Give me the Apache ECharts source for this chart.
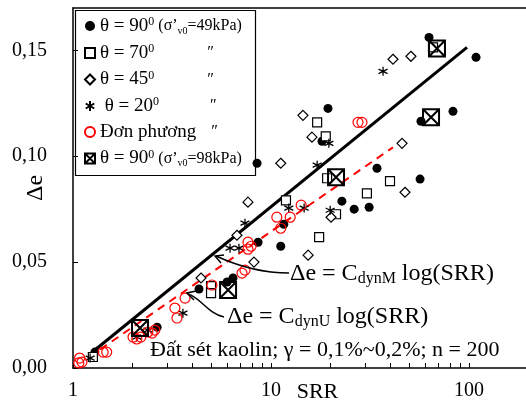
<!DOCTYPE html>
<html>
<head>
<meta charset="utf-8">
<script src="https://cdn.jsdelivr.net/npm/echarts@6/dist/echarts.min.js"></script>
<style>html,body{margin:0;padding:0;background:#fff}#c{width:526px;height:400px}</style>
</head>
<body>
<div id="c"></div>
<script>
// ---- data (SRR, Δe) ----
const srr90a = [1.29,2.66,4.33,6.0,6.43,8.6,11.2,11.6,8.5,18.1,19.4,22.8,26.3,31.3,34.3,56.6,57.2,83.0,62.8,108.5];
const de90a  = [0.0075,0.0193,0.0373,0.0406,0.0425,0.0594,0.0575,0.0679,0.0967,0.1071,0.1226,0.0788,0.0750,0.0759,0.0943,0.0892,0.1165,0.1212,0.1561,0.1467];
const srr70 = [1.26,4.98,4.98,11.9,17.1,18.9,19.2,21.3,17.5,30.5,39.9,65.8];
const de70  = [0.0052,0.0387,0.0354,0.0792,0.1160,0.1094,0.0896,0.0726,0.0618,0.0825,0.0882,0.1514];
const srr45 = [4.43,6.73,8.2,7.65,11.2,14.5,16.1,20.1,15.4,45.9,47.5,41.3,50.9];
const de45  = [0.0425,0.0627,0.0500,0.0783,0.0967,0.1193,0.1090,0.0712,0.0533,0.1061,0.0830,0.1458,0.1472];
const srr20 = [1.22,2.10,2.39,3.59,6.21,6.89,7.39,12.3,14.7,17.1,19.9,19.6,36.8];
const de20  = [0.0047,0.0146,0.0179,0.0259,0.0566,0.0566,0.0684,0.0755,0.0755,0.0958,0.0745,0.1061,0.1401];
const srrU = [1.08,1.11,1.07,1.42,1.48,2.01,2.10,2.20,2.39,2.51,2.59,3.27,3.35,3.68,5.03,7.14,7.39,7.65,7.93,7.65,11.2,10.7,12.5,14.2,27.5,28.8];
const deU  = [0.0047,0.0028,0.0024,0.0075,0.0075,0.0146,0.0137,0.0146,0.0170,0.0165,0.0179,0.0283,0.0236,0.0330,0.0392,0.0448,0.0462,0.0561,0.0575,0.0594,0.0660,0.0712,0.0712,0.0769,0.1160,0.1160];
const srr98 = [2.18,6.07,21.3,64.3,68.9];
const de98  = [0.0189,0.0368,0.0901,0.1184,0.1509];
// fitted lines (read endpoints)
const lineM_srr = [1.29, 97.7];
const lineM_de  = [0.0085, 0.1514];
const lineU_srr = [1.2, 41.3];
const lineU_de  = [0.005, 0.1042];
// axis ticks
const xLabelVals = [1, 10, 100];
const xTickVals = [1,2,3,4,5,6,7,8,9,10,20,30,40,50,60,70,80,90,100];
const yTickVals = [0, 0.05, 0.10, 0.15];

const names = ['θ = 90⁰ (σ’v0=49kPa)','θ = 70⁰','θ = 45⁰','θ = 20⁰','Đơn phương','θ = 90⁰ (σ’v0=98kPa)'];
const legendText = {
  'θ = 90⁰ (σ’v0=49kPa)': '{m|θ = 90}{sup|0}{s| (σ’}{sub|v0}{s|=49kPa)}',
  'θ = 70⁰': '{m|θ = 70}{sup|0}{gap| }{d|″}',
  'θ = 45⁰': '{m|θ = 45}{sup|0}{gap| }{d|″}',
  'θ = 20⁰': '{m| θ = 20}{sup|0}{gap2| }{d|″}',
  'Đơn phương': '{m|Đơn phương}{gap3| }{d|″}',
  'θ = 90⁰ (σ’v0=98kPa)': '{m|θ = 90}{sup|0}{s| (σ’}{sub|v0}{s|=98kPa)}'
};

const pairs = (a, b) => a.map((v, i) => [v, b[i]]);
const F = 'Liberation Serif';
const ast = 'path://M5,0L5,10M0.7,2.5L9.3,7.5M9.3,2.5L0.7,7.5';
const boxX = 'path://M0,0L10,0L10,10L0,10ZM0,0L10,10M10,0L0,10';

const chart = echarts.init(document.getElementById('c'));
chart.setOption({
  animation: false,
  backgroundColor: '#fff',
  grid: { left: 73, top: 8, right: 0, bottom: 32, containLabel: false, outerBoundsMode: 'none' },
  xAxis: [{
    type: 'log', min: 1, max: 194, logBase: 10,
    axisLine: { lineStyle: { color: '#000', width: 1.5 } },
    axisTick: { inside: true, length: 5, customValues: xTickVals, lineStyle: { color: '#000' } },
    axisLabel: { customValues: xLabelVals, margin: 13, color: '#000', fontFamily: F, fontSize: 20,
                 formatter: v => String(Math.round(v)) },
    splitLine: { show: false },
    name: 'SRR', nameLocation: 'middle', nameGap: 13, nameMoveOverlap: false,
    nameTextStyle: { fontFamily: F, fontSize: 22, color: '#000', padding: [0, 0, 0, 36] }
  }, {
    type: 'log', min: 1, max: 194, position: 'top',
    axisLine: { show: true, lineStyle: { color: '#000', width: 1.5 } },
    axisTick: { show: false }, axisLabel: { show: false }, splitLine: { show: false }
  }],
  yAxis: {
    type: 'value', min: 0, max: 0.17,
    axisLine: { show: true, lineStyle: { color: '#000', width: 1.5 } },
    axisTick: { show: true, inside: true, length: 5, customValues: yTickVals, lineStyle: { color: '#000' } },
    axisLabel: { customValues: yTickVals, margin: 26, color: '#000', fontFamily: F, fontSize: 20,
                 formatter: v => v.toFixed(2).replace('.', ',') },
    splitLine: { show: false },
    name: 'Δe', nameLocation: 'middle', nameGap: 25, nameRotate: 90, nameMoveOverlap: false,
    nameTextStyle: { fontFamily: F, fontSize: 24, color: '#000' }
  },
  legend: {
    orient: 'vertical', left: 84, top: 16, itemWidth: 10, itemHeight: 10, itemGap: 7, padding: 0,
    data: names,
    formatter: n => legendText[n],
    textStyle: {
      fontFamily: F, color: '#000',
      rich: {
        m: { fontFamily: F, fontSize: 19, lineHeight: 20, color: '#000' },
        sup: { fontFamily: F, fontSize: 12, lineHeight: 20, verticalAlign: 'top', color: '#000' },
        s: { fontFamily: F, fontSize: 16, lineHeight: 20, color: '#000' },
        sub: { fontFamily: F, fontSize: 10, lineHeight: 20, verticalAlign: 'bottom', color: '#000' },
        gap: { width: 52, lineHeight: 20 },
        gap2: { width: 50, lineHeight: 20 },
        gap3: { width: 14, lineHeight: 20 },
        d: { fontFamily: F, fontSize: 16, lineHeight: 20, fontStyle: 'italic', color: '#000' }
      }
    }
  },
  graphic: [
    { type: 'rect', left: 73, top: 8, shape: { width: 180, height: 165 }, silent: true, z: 0,
      style: { fill: 'none', stroke: '#000', lineWidth: 1.2 } },
    { type: 'text', left: 290, top: 262, z: 100,
      style: { rich: { a: { fontFamily: F, fontSize: 24, fill: '#000', lineHeight: 26 },
                       b: { fontFamily: F, fontSize: 16, fill: '#000', lineHeight: 26, verticalAlign: 'bottom' } },
               text: '{a|Δe = C}{b|dynM}{a| log(SRR)}' } },
    { type: 'text', left: 227, top: 305, z: 100,
      style: { rich: { a: { fontFamily: F, fontSize: 24, fill: '#000', lineHeight: 26 },
                       b: { fontFamily: F, fontSize: 16, fill: '#000', lineHeight: 26, verticalAlign: 'bottom' } },
               text: '{a|Δe = C}{b|dynU}{a| log(SRR)}' } },
    { type: 'text', left: 150, top: 339, z: 100,
      style: { text: 'Đất sét kaolin; γ = 0,1%~0,2%; n = 200', fontFamily: F, fontSize: 22, fill: '#000' } },
    { type: 'bezierCurve', z: 100, shape: { x1: 216, y1: 256, cpx1: 240, cpy1: 267, cpx2: 262, cpy2: 273, x2: 289, y2: 273 },
      style: { stroke: '#000', lineWidth: 1.5, fill: 'none' } },
    { type: 'polyline', z: 100, shape: { points: [[224, 255], [215, 256], [221, 263]] },
      style: { stroke: '#000', lineWidth: 1.5, fill: 'none' } },
    { type: 'bezierCurve', z: 100, shape: { x1: 188, y1: 294, cpx1: 200, cpy1: 297, cpx2: 207, cpy2: 313, x2: 224, y2: 317 },
      style: { stroke: '#000', lineWidth: 1.5, fill: 'none' } },
    { type: 'polyline', z: 100, shape: { points: [[196, 291], [187, 293], [194, 300]] },
      style: { stroke: '#000', lineWidth: 1.5, fill: 'none' } }
  ],
  series: [
    { name: 'lineM', type: 'line', data: pairs(lineM_srr, lineM_de), symbol: 'none', z: 3,
      lineStyle: { color: '#000', width: 3 } },
    { name: 'lineU', type: 'line', data: pairs(lineU_srr, lineU_de), symbol: 'none', z: 3,
      lineStyle: { color: '#ff0000', width: 2, type: [8, 6] } },
    { name: names[0], type: 'scatter', data: pairs(srr90a, de90a), symbol: 'circle', symbolSize: 9, z: 4,
      itemStyle: { color: '#000', opacity: 1 } },
    { name: names[1], type: 'scatter', data: pairs(srr70, de70), symbol: 'rect', symbolSize: 9, z: 4,
      itemStyle: { color: '#fff', borderColor: '#000', borderWidth: 1.2, opacity: 1 } },
    { name: names[2], type: 'scatter', data: pairs(srr45, de45), symbol: 'diamond', symbolSize: 10, z: 4,
      itemStyle: { color: '#fff', borderColor: '#000', borderWidth: 1.2, opacity: 1 } },
    { name: names[3], type: 'scatter', data: pairs(srr20, de20), symbol: ast, symbolSize: 9, z: 4,
      itemStyle: { color: '#000', borderColor: '#000', borderWidth: 1.3, opacity: 1 } },
    { name: names[4], type: 'scatter', data: pairs(srrU, deU), symbol: 'circle', symbolSize: 10, z: 4,
      itemStyle: { color: 'rgba(255,255,255,0)', borderColor: '#ff0000', borderWidth: 1.2, opacity: 1 } },
    { name: names[5], type: 'scatter', data: pairs(srr98, de98), symbol: boxX, symbolSize: 16, z: 5,
      itemStyle: { color: 'rgba(255,255,255,0)', borderColor: '#000', borderWidth: 2, opacity: 1 } }
  ]
});
</script>
</body>
</html>
